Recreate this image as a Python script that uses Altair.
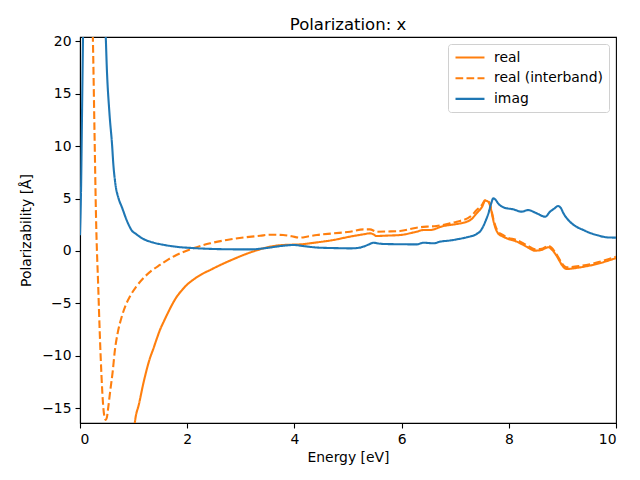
import altair as alt
import pandas as pd

# ---- data ----
imag_E = [0.0, 0.02, 0.04, 0.06, 0.08, 0.12, 0.2, 0.3, 0.4, 0.46, 0.48, 0.5, 0.55, 0.6, 0.62, 0.66,
          0.72, 0.78, 0.87, 0.96, 1.05, 1.2, 1.37, 1.6, 1.8, 2.1, 2.43, 2.8, 3.17, 3.5, 3.79, 3.98,
          4.2, 4.42, 4.8, 5.04, 5.2, 5.29, 5.4, 5.47, 5.56, 5.66, 6.0, 6.28, 6.41, 6.5, 6.59, 6.72,
          6.9, 7.03, 7.21, 7.4, 7.47, 7.52, 7.57, 7.62, 7.67, 7.71, 7.75, 7.8, 7.9, 8.08, 8.24, 8.36,
          8.52, 8.68, 8.77, 8.85, 8.92, 8.97, 9.02, 9.14, 9.25, 9.39, 9.5, 9.64, 9.83, 10.0]
imag_V = [1.5, 6.0, 14.0, 22.0, 30.0, 38.0, 42.0, 38.0, 29.0, 23.0, 20.5, 17.5, 13.1, 10.0, 8.4, 6.4,
          5.0, 4.2, 2.95, 2.0, 1.6, 1.1, 0.8, 0.55, 0.4, 0.28, 0.2, 0.16, 0.15, 0.3, 0.5, 0.57,
          0.45, 0.33, 0.27, 0.25, 0.3, 0.42, 0.65, 0.79, 0.72, 0.67, 0.64, 0.63, 0.79, 0.76, 0.73, 0.89,
          1.0, 1.11, 1.3, 1.62, 1.9, 2.32, 2.9, 3.59, 4.5, 5.02, 4.9, 4.54, 4.16, 3.97, 3.75, 3.9,
          3.59, 3.27, 3.75, 4.05, 4.29, 4.1, 3.59, 2.79, 2.35, 2.0, 1.75, 1.52, 1.3, 1.27]

real_E = [0.45, 0.55, 0.65, 0.75, 0.85, 0.95, 1.03, 1.1, 1.17, 1.24, 1.3, 1.37, 1.43, 1.49, 1.57,
          1.65, 1.72, 1.8, 1.9, 2.0, 2.11, 2.27, 2.43, 2.6, 2.74, 2.9, 3.05, 3.2, 3.36, 3.48, 3.65,
          3.79, 3.95, 4.1, 4.42, 4.73, 5.04, 5.29, 5.41, 5.47, 5.53, 5.75, 5.97, 6.28, 6.41, 6.53,
          6.78, 6.9, 7.03, 7.28, 7.4, 7.5, 7.56, 7.6, 7.64, 7.68, 7.71, 7.75, 7.8, 7.88, 7.96, 8.15,
          8.33, 8.49, 8.61, 8.74, 8.8, 8.86, 8.93, 8.99, 9.08, 9.33, 9.64, 10.0]
real_V = [-150.0, -90.0, -55.0, -37.0, -27.0, -20.5, -16.1, -14.6, -12.9, -11.4, -10.3, -9.3, -8.4,
          -7.55, -6.65, -5.8, -5.1, -4.4, -3.75, -3.2, -2.75, -2.22, -1.81, -1.38, -1.05, -0.7, -0.38,
          -0.1, 0.16, 0.33, 0.5, 0.57, 0.6, 0.63, 0.82, 1.05, 1.37, 1.59, 1.68, 1.6, 1.43, 1.47, 1.52,
          1.84, 2.0, 2.0, 2.38, 2.48, 2.57, 2.95, 3.59, 4.2, 4.79, 4.75, 4.48, 3.7, 2.95, 2.2, 1.68,
          1.4, 1.21, 0.89, 0.41, 0.03, 0.1, 0.35, 0.15, -0.22, -0.8, -1.33, -1.71, -1.56, -1.24, -0.68]

inter_E = [0.0, 0.1, 0.18, 0.22, 0.24, 0.27, 0.3, 0.34, 0.37, 0.4, 0.43, 0.46, 0.48, 0.5, 0.53,
           0.56, 0.61, 0.65, 0.7, 0.78, 0.85, 0.93, 1.05, 1.18, 1.33, 1.49, 1.65, 1.8, 2.11, 2.43,
           2.74, 3.05, 3.36, 3.54, 3.79, 3.95, 4.1, 4.25, 4.42, 4.73, 5.04, 5.29, 5.41, 5.53, 5.75,
           5.97, 6.28, 6.47, 6.65, 6.9, 7.03, 7.28, 7.4, 7.5, 7.56, 7.6, 7.64, 7.68, 7.71, 7.75, 7.8,
           7.88, 7.96, 8.15, 8.33, 8.49, 8.61, 8.74, 8.8, 8.86, 8.93, 8.99, 9.08, 9.33, 9.64, 10.0]
inter_V = [28.0, 30.0, 29.0, 24.0, 20.3, 11.5, 3.0, -3.4, -8.0, -11.8, -14.6, -15.9, -16.1, -15.9,
           -14.8, -13.5, -11.5, -9.5, -7.9, -6.25, -5.2, -4.35, -3.4, -2.6, -1.9, -1.33, -0.8, -0.38,
           0.25, 0.73, 1.05, 1.28, 1.45, 1.55, 1.52, 1.4, 1.27, 1.38, 1.52, 1.68, 1.84, 2.06, 2.06,
           1.84, 1.86, 1.9, 2.22, 2.32, 2.38, 2.63, 2.79, 3.27, 3.9, 4.4, 4.86, 4.8, 4.6, 3.8, 3.1,
           2.4, 1.85, 1.55, 1.3, 1.05, 0.57, 0.16, 0.2, 0.48, 0.3, -0.1, -0.65, -1.17, -1.56, -1.43,
           -1.11, -0.54]

series_names = ["real", "real (interband)", "imag"]
series_colors = ["#ff7f0e", "#ff7f0e", "#1f77b4"]
series_dash = [[1, 0], [7.7, 3.3], [1, 0]]

x_ticks = [0, 2, 4, 6, 8, 10]
y_ticks = [-15, -10, -5, 0, 5, 10, 15, 20]

frames = []
for name, E, V in [("real", real_E, real_V), ("real (interband)", inter_E, inter_V), ("imag", imag_E, imag_V)]:
    frames.append(pd.DataFrame({"energy": E, "value": V, "series": name}))
df = pd.concat(frames, ignore_index=True)

FONT = "DejaVu Sans"

base = alt.Chart(df).mark_line(clip=True, strokeWidth=2.1, interpolate="monotone").encode(
    x=alt.X("energy:Q", title="Energy [eV]",
            scale=alt.Scale(domain=[0, 10], nice=False, zero=False),
            axis=alt.Axis(values=x_ticks, format="d")),
    y=alt.Y("value:Q", title="Polarizability [Å]",
            scale=alt.Scale(domain=[-16.4, 20.4], nice=False, zero=False),
            axis=alt.Axis(values=y_ticks, format="d")),
    color=alt.Color("series:N", scale=alt.Scale(domain=series_names, range=series_colors),
                    legend=alt.Legend(title=None, orient="top-right")),
    strokeDash=alt.StrokeDash("series:N", scale=alt.Scale(domain=series_names, range=series_dash),
                              legend=alt.Legend(title=None, orient="top-right")),
    order=alt.Order("energy:Q"),
)

layers = [base.transform_filter(alt.datum.series == n) for n in series_names]

chart = alt.layer(*layers).properties(
    width=536,
    height=386,
    padding={"left": 72, "top": 29, "right": 16, "bottom": 49},
    autosize=alt.AutoSizeParams(type="none"),
    title=alt.TitleParams("Polarization: x", font=FONT, fontSize=16.5, fontWeight="normal",
                          color="black", anchor="middle", offset=1),
).configure_view(
    stroke="black", strokeWidth=1.1
).configure_axis(
    grid=False, domainColor="black", domainWidth=1.1, tickColor="black", tickWidth=1.1,
    tickSize=5, labelPadding=4, labelFont=FONT, labelFontSize=13.9, labelColor="black",
    titleFont=FONT, titleFontSize=13.9, titleFontWeight="normal", titleColor="black",
).configure_axisY(titlePadding=8).configure_axisX(titlePadding=5).configure_legend(
    labelFont=FONT, labelFontSize=13.9, labelColor="black", symbolType="M-1,0L3.83,0",
    symbolSize=144, symbolStrokeWidth=2.1, strokeColor="#d0d0d0", fillColor="white",
    cornerRadius=3, padding=6, offset=7, labelOffset=25, rowPadding=5.7,
)

chart.save("out.html", embed_options={"renderer": "svg", "actions": False})
